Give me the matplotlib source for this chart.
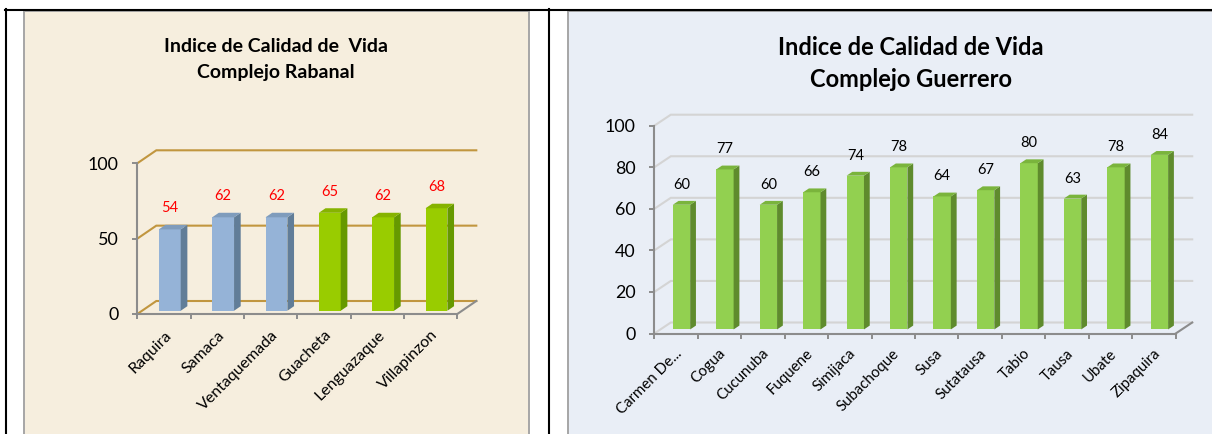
import matplotlib
matplotlib.use('Agg')
import matplotlib.pyplot as plt
import matplotlib.transforms as mtransforms
from matplotlib.patches import Rectangle, Polygon
from matplotlib.lines import Line2D

plt.rcParams['font.family'] = ['Lato', 'DejaVu Sans']

# Complejo Rabanal
rabanal_municipios = ['Raquira', 'Samaca', 'Ventaquemada', 'Guacheta', 'Lenguazaque', 'Villapinzon']
rabanal_icv = [54, 62, 62, 65, 62, 68]
rabanal_depto = ['Boyaca', 'Boyaca', 'Boyaca', 'Cundinamarca', 'Cundinamarca', 'Cundinamarca']
rabanal_yticks = [0, 50, 100]

# Complejo Guerrero
guerrero_municipios = ['Carmen De...', 'Cogua', 'Cucunuba', 'Fuquene', 'Simijaca', 'Subachoque',
                       'Susa', 'Sutatausa', 'Tabio', 'Tausa', 'Ubate', 'Zipaquira']
guerrero_icv = [60, 77, 60, 66, 74, 78, 64, 67, 80, 63, 78, 84]
guerrero_yticks = [0, 20, 40, 60, 80, 100]

W, H = 1212, 434
PT = 0.72  # points per pixel at 100 dpi
AXIS_GREY = '#8C8C8C'

fig = plt.figure(figsize=(W / 100, H / 100), dpi=100)
fig.patch.set_facecolor('white')

# page / table background
bg = fig.add_axes([0, 0, 1, 1])
bg.set_xlim(0, W)
bg.set_ylim(H, 0)
bg.axis('off')
bg.add_patch(Rectangle((23.5, 11), 505, 440, fc='#F6EEDE', ec='#A6A6A6', lw=1.4))
bg.add_patch(Rectangle((567.5, 11), 700, 440, fc='#E9EEF6', ec='#A6A6A6', lw=1.4))
bg.plot([5, W], [9.8, 9.8], color='black', lw=1.5)
bg.plot([5.8, 5.8], [9, H], color='black', lw=1.5)
bg.plot([549.3, 549.3], [9, H], color='black', lw=1.5)

# titles
bg.text(276, 52.3, 'Indice de Calidad de  Vida', ha='center', va='baseline',
        fontsize=14, fontweight='bold', color='black')
bg.text(276, 78.3, 'Complejo Rabanal', ha='center', va='baseline',
        fontsize=14, fontweight='bold', color='black')
bg.text(910.5, 55, 'Indice de Calidad de Vida', ha='center', va='baseline',
        fontsize=17, fontweight='bold', color='black')
bg.text(910.5, 87.3, 'Complejo Guerrero', ha='center', va='baseline',
        fontsize=17, fontweight='bold', color='black')


def chart(names, values, fronts, sides, tops, box, dx, dy, d0, d1, x_off, bar_w,
          yticks, grid_color, label_color, label_dy, tick_dx, tick_dy, tick_size):
    x0, x1, y0, y100 = box
    ax = fig.add_axes([x0 / W, 1 - y0 / H, (x1 - x0) / W, (y0 - y100) / H])
    n = len(values)
    ax.set_xlim(0, n)
    ax.set_ylim(0, 100)
    ax.patch.set_alpha(0)

    def shift(d):
        return ax.transData + mtransforms.Affine2D().translate(d * dx, d * dy)

    def proj(x, v, d):
        px, py = ax.transData.transform((x, v))
        return (px + d * dx, py + d * dy)

    ident = mtransforms.IdentityTransform()

    # side wall diagonals and back wall gridlines
    for v in yticks:
        pts = [proj(0, v, 0), proj(0, v, 1), proj(n, v, 1)]
        ax.add_line(Line2D([p[0] for p in pts], [p[1] for p in pts], transform=ident,
                           color=grid_color, lw=1.5, zorder=1, clip_on=False,
                           solid_joinstyle='miter'))
    # floor right edge
    a, b = proj(n, 0, 0), proj(n, 0, 1)
    ax.add_line(Line2D([a[0], b[0]], [a[1], b[1]], transform=ident, color=AXIS_GREY,
                       lw=1.5, zorder=2, clip_on=False))

    # bars
    for i, v in enumerate(values):
        xl = i + x_off
        xr = xl + bar_w
        ax.bar(xl, v, width=bar_w, align='edge', color=fronts[i], lw=0,
               transform=shift(d0), clip_on=False, zorder=3)
        side = [proj(xr, 0, d0), proj(xr, 0, d1), proj(xr, v, d1), proj(xr, v, d0)]
        ax.add_patch(Polygon(side, closed=True, fc=sides[i], lw=0, transform=ident,
                             clip_on=False, zorder=3))
        top = [proj(xl, v, d0), proj(xr, v, d0), proj(xr, v, d1), proj(xl, v, d1)]
        ax.add_patch(Polygon(top, closed=True, fc=tops[i], lw=0, transform=ident,
                             clip_on=False, zorder=3))
        ax.annotate(str(v), xy=(xl + bar_w / 2, v), xycoords=shift(d0),
                    xytext=(0, label_dy * PT), textcoords='offset points',
                    ha='center', va='center', fontsize=10.5, color=label_color,
                    zorder=4, annotation_clip=False)
        ax.annotate(names[i], xy=(i + 0.5, 0), xycoords='data',
                    xytext=(tick_dx * PT, -tick_dy * PT), textcoords='offset points',
                    ha='right', va='top', rotation=45, rotation_mode='anchor',
                    fontsize=tick_size, color='black', annotation_clip=False)

    for s in ['top', 'right']:
        ax.spines[s].set_visible(False)
    for s in ['left', 'bottom']:
        ax.spines[s].set_color(AXIS_GREY)
        ax.spines[s].set_linewidth(1.5)
    ax.set_yticks(yticks)
    ax.tick_params(axis='y', direction='out', length=5 * PT, width=1.4, color=AXIS_GREY,
                   pad=10, labelsize=12.9)
    ax.set_xticks([])
    ax.set_xticks(range(n + 1), minor=True)
    ax.tick_params(axis='x', which='minor', direction='out', length=4.5 * PT, width=1.4,
                   color=AXIS_GREY)
    return ax


rab_front = {'Boyaca': '#95B3D7', 'Cundinamarca': '#99CC00'}
rab_side = {'Boyaca': '#617D98', 'Cundinamarca': '#669900'}
rab_top = {'Boyaca': '#7F9CBC', 'Cundinamarca': '#86B300'}

chart(rabanal_municipios, rabanal_icv,
      [rab_front[d] for d in rabanal_depto],
      [rab_side[d] for d in rabanal_depto],
      [rab_top[d] for d in rabanal_depto],
      box=(137.3, 457.3, 314, 163.3), dx=19, dy=13, d0=0.25, d1=0.6,
      x_off=0.315, bar_w=0.41, yticks=rabanal_yticks, grid_color='#C1963F',
      label_color='#FF0000', label_dy=21, tick_dx=0, tick_dy=14, tick_size=11.5)

n_g = len(guerrero_icv)
chart(guerrero_municipios, guerrero_icv,
      ['#92D050'] * n_g, ['#5F8B2D'] * n_g, ['#7AB43C'] * n_g,
      box=(654.3, 1175.7, 333.5, 125.7), dx=16.5, dy=11, d0=0.37, d1=0.72,
      x_off=0.285, bar_w=0.40, yticks=guerrero_yticks, grid_color='#D4D4D4',
      label_color='black', label_dy=20, tick_dx=-1, tick_dy=13, tick_size=10.8)

fig.savefig('out.png', dpi=100)
